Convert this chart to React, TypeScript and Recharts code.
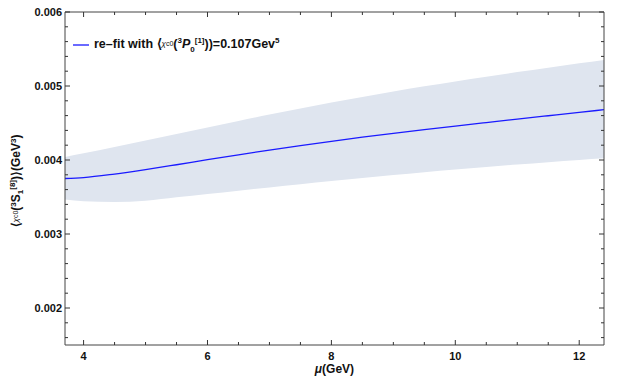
import React from "react";
import { ComposedChart, Area, Line, XAxis, YAxis } from "recharts";

const mu = [3.7, 4, 4.5, 5, 5.5, 6, 6.5, 7, 7.5, 8, 8.5, 9, 9.5, 10, 10.5, 11, 11.5, 12, 12.4];
const central = [0.00375, 0.003762, 0.00381, 0.00387, 0.003936, 0.004004, 0.00407, 0.004134, 0.004195, 0.004253, 0.004308, 0.00436, 0.00441, 0.004458, 0.004505, 0.004552, 0.004598, 0.004644, 0.00468];
const upper = [0.00404, 0.00409, 0.004175, 0.004262, 0.004351, 0.00444, 0.004528, 0.004614, 0.004697, 0.004777, 0.004853, 0.004925, 0.004995, 0.005062, 0.005126, 0.005188, 0.005248, 0.005306, 0.005351];
const lower = [0.003466, 0.003443, 0.003433, 0.00345, 0.003495, 0.003541, 0.003586, 0.00363, 0.003673, 0.003715, 0.003756, 0.003796, 0.003835, 0.003872, 0.003907, 0.00394, 0.003971, 0.004, 0.004022];

const xTicks = [4, 4.5, 5, 5.5, 6, 6.5, 7, 7.5, 8, 8.5, 9, 9.5, 10, 10.5, 11, 11.5, 12];
const xMajor = [4, 6, 8, 10, 12];
const yTicks = [0.0016, 0.0018, 0.002, 0.0022, 0.0024, 0.0026, 0.0028, 0.003, 0.0032, 0.0034, 0.0036, 0.0038, 0.004, 0.0042, 0.0044, 0.0046, 0.0048, 0.005, 0.0052, 0.0054, 0.0056, 0.0058, 0.006];
const yMajor = [0.002, 0.003, 0.004, 0.005, 0.006];

const data = mu.map((m, i) => ({ mu: m, central: central[i], band: [lower[i], upper[i]] }));

const FONT = "'Liberation Sans', Arial, sans-serif";
const TICK_COLOR = "#333";
const M = 3;

const isMajor = (arr: number[], v: number) => arr.some((a) => Math.abs(a - v) < 1e-9);

const BottomTick = (props: any) => {
  const { x, y, payload } = props;
  const major = isMajor(xMajor, payload.value);
  const ay = y - M;
  return (
    <g>
      <line x1={x} x2={x} y1={ay} y2={ay - (major ? 5 : 3)} stroke={TICK_COLOR} strokeWidth={1} />
      {major && (
        <text x={x} y={ay + 15} textAnchor="middle" fontFamily={FONT} fontWeight="bold" fontSize={11} fill="#111">
          {payload.value}
        </text>
      )}
    </g>
  );
};

const TopTick = (props: any) => {
  const { x, y, payload } = props;
  const major = isMajor(xMajor, payload.value);
  const ay = y + M;
  return <line x1={x} x2={x} y1={ay} y2={ay + (major ? 5 : 3)} stroke={TICK_COLOR} strokeWidth={1} />;
};

const LeftTick = (props: any) => {
  const { x, y, payload } = props;
  const major = isMajor(yMajor, payload.value);
  const ax = x + M;
  return (
    <g>
      <line x1={ax} x2={ax + (major ? 5 : 3)} y1={y} y2={y} stroke={TICK_COLOR} strokeWidth={1} />
      {major && (
        <text x={ax - 3} y={y + 4} textAnchor="end" fontFamily={FONT} fontWeight="bold" fontSize={11} fill="#111">
          {payload.value.toFixed(3)}
        </text>
      )}
    </g>
  );
};

const RightTick = (props: any) => {
  const { x, y, payload } = props;
  const major = isMajor(yMajor, payload.value);
  const ax = x - M;
  return <line x1={ax} x2={ax - (major ? 5 : 3)} y1={y} y2={y} stroke={TICK_COLOR} strokeWidth={1} />;
};

const YLabel = (props: any) => {
  const vb = props.viewBox || {};
  const cx = (vb.x || 0) + 20;
  const cy = 181;
  return (
    <text
      x={cx}
      y={cy}
      transform={`rotate(-90 ${cx} ${cy})`}
      textAnchor="middle"
      fontFamily={FONT}
      fontSize={12}
      fontWeight="bold"
      fill="#111"
    >
      <tspan>⟨</tspan>
      <tspan fontSize={8} fontStyle="italic" fontWeight="normal" dy={-2}>χ</tspan>
      <tspan fontSize={7} fontWeight="normal">c0</tspan>
      <tspan dy={2}>(</tspan>
      <tspan fontSize={8} dy={-4}>3</tspan>
      <tspan dy={4}>S</tspan>
      <tspan fontSize={8} dy={3}>1</tspan>
      <tspan fontSize={8} dy={-8}>[8]</tspan>
      <tspan dy={5}>)⟩(GeV</tspan>
      <tspan fontSize={8} dy={-4}>3</tspan>
      <tspan dy={4}>)</tspan>
    </text>
  );
};

const XLabel = (props: any) => {
  const vb = props.viewBox || {};
  const cx = (vb.x || 0) + (vb.width || 0) / 2;
  const cy = 373;
  return (
    <text x={cx} y={cy} textAnchor="middle" fontFamily={FONT} fontSize={12} fontWeight="bold" fill="#111">
      <tspan fontStyle="italic">μ</tspan>
      <tspan>(GeV)</tspan>
    </text>
  );
};

const LegendBox = () => (
  <div
    style={{
      position: "absolute",
      top: 37,
      left: 72,
      display: "flex",
      alignItems: "center",
      fontFamily: FONT,
      fontSize: 12.5,
      fontWeight: "bold",
      color: "#111",
      whiteSpace: "nowrap",
      lineHeight: "14px",
    }}
  >
    <svg width={18} height={10} style={{ marginRight: 4 }}>
      <line x1={1} x2={17} y1={5} y2={5} stroke="#1a1aff" strokeWidth={1.3} />
    </svg>
    <span>
      re–fit with ⟨<span style={{ fontSize: 8, fontStyle: "italic", fontWeight: "normal", position: "relative", top: -2 }}>χ</span>
      <span style={{ fontSize: 7, fontWeight: "normal", position: "relative", top: -2 }}>c0</span>(
      <sup style={{ fontSize: 8, lineHeight: 0 }}>3</sup>
      <i>P</i>
      <sub style={{ fontSize: 8, lineHeight: 0 }}>0</sub>
      <sup style={{ fontSize: 8, lineHeight: 0 }}>[1]</sup>))=0.107Gev<sup style={{ fontSize: 8, lineHeight: 0 }}>5</sup>
    </span>
  </div>
);

export default function App() {
  return (
    <div style={{ position: "absolute", left: 0, top: 0, width: 628, height: 381, background: "#fff" }}>
      <ComposedChart width={628} height={381} data={data} margin={{ top: 11, right: 23, bottom: 0, left: 0 }}>
        <XAxis
          xAxisId="bottom"
          dataKey="mu"
          type="number"
          domain={[3.7, 12.4]}
          ticks={xTicks}
          allowDataOverflow
          interval={0}
          height={36}
          tickSize={0}
          tickMargin={M}
          tick={<BottomTick />}
          axisLine={{ stroke: "#444", strokeWidth: 1 }}
          tickLine={false}
          label={<XLabel />}
        />
        <XAxis
          xAxisId="top"
          orientation="top"
          dataKey="mu"
          type="number"
          domain={[3.7, 12.4]}
          ticks={xTicks}
          allowDataOverflow
          interval={0}
          height={1}
          tickSize={0}
          tickMargin={M}
          tick={<TopTick />}
          axisLine={{ stroke: "#444", strokeWidth: 1 }}
          tickLine={false}
        />
        <YAxis
          yAxisId="left"
          type="number"
          domain={[0.0015, 0.006]}
          ticks={yTicks}
          allowDataOverflow
          interval={0}
          width={65}
          tickSize={0}
          tickMargin={M}
          tick={<LeftTick />}
          axisLine={{ stroke: "#444", strokeWidth: 1 }}
          tickLine={false}
          label={<YLabel />}
        />
        <YAxis
          yAxisId="right"
          orientation="right"
          type="number"
          domain={[0.0015, 0.006]}
          ticks={yTicks}
          allowDataOverflow
          interval={0}
          width={1}
          tickSize={0}
          tickMargin={M}
          tick={<RightTick />}
          axisLine={{ stroke: "#444", strokeWidth: 1 }}
          tickLine={false}
        />
        <Area
          xAxisId="bottom"
          yAxisId="left"
          dataKey="band"
          type="monotone"
          stroke="none"
          fill="#dfe5ef"
          fillOpacity={1}
          isAnimationActive={false}
          legendType="none"
        />
        <Line
          xAxisId="bottom"
          yAxisId="left"
          dataKey="central"
          type="monotone"
          stroke="#1a1aff"
          strokeWidth={1.3}
          dot={false}
          isAnimationActive={false}
        />
        <Line
          xAxisId="top"
          yAxisId="right"
          dataKey="central"
          type="monotone"
          stroke="none"
          dot={false}
          activeDot={false}
          legendType="none"
          isAnimationActive={false}
        />
      </ComposedChart>
      <LegendBox />
    </div>
  );
}
